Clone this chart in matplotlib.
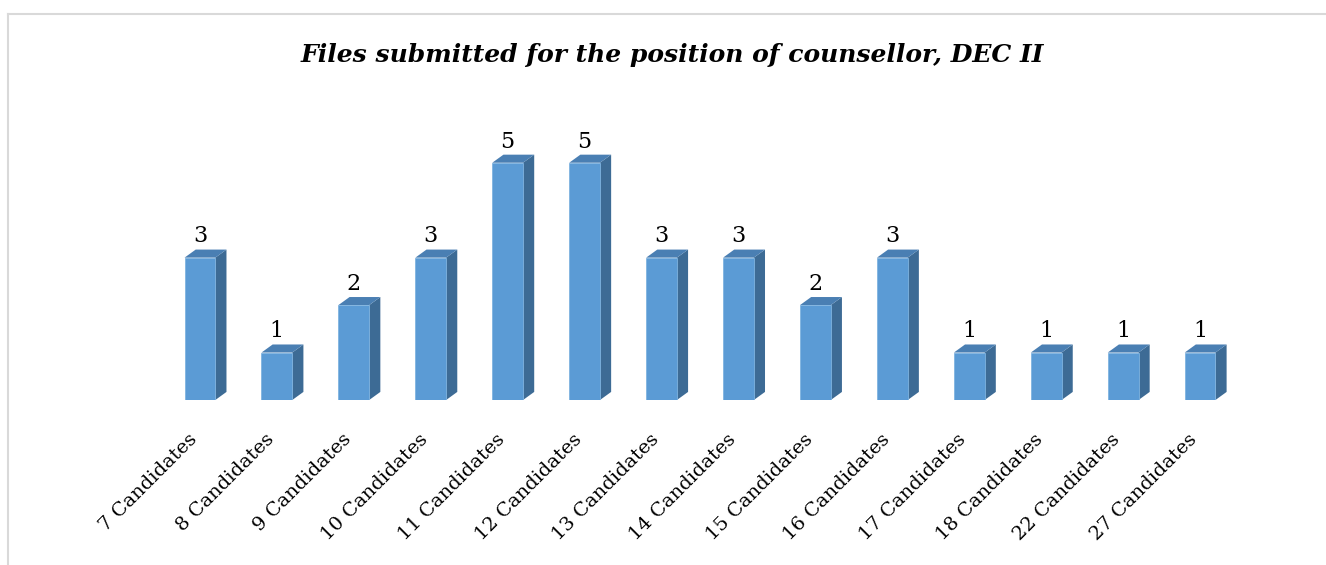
import matplotlib.pyplot as plt
from matplotlib.patches import Polygon
from matplotlib.lines import Line2D
from matplotlib.transforms import ScaledTranslation
import numpy as np

# data
categories = ['7 Candidates', '8 Candidates', '9 Candidates', '10 Candidates',
              '11 Candidates', '12 Candidates', '13 Candidates', '14 Candidates',
              '15 Candidates', '16 Candidates', '17 Candidates', '18 Candidates',
              '22 Candidates', '27 Candidates']
files = [3, 1, 2, 3, 5, 5, 3, 3, 2, 3, 1, 1, 1, 1]
title = 'Files submitted for the position of counsellor, DEC II'

front_col = '#5b9bd5'
side_col = '#3d6b95'
top_col = '#4a7fb3'
serif = ['DejaVu Serif']

fig = plt.figure(figsize=(13.26, 5.65), dpi=100)
ax = fig.add_axes([123 / 1326, 165 / 565, 1154 / 1326, 261 / 565])

x = np.arange(len(categories))
w = 0.40      # front face width
dx = 0.145    # depth in x
dy = 0.17     # depth in y

ax.bar(x, files, width=w, color=front_col, edgecolor='#7fb3e0', linewidth=0.6, zorder=3)
for xi, v in zip(x, files):
    l, r = xi - w / 2, xi + w / 2
    side = Polygon([(r, 0), (r + dx, dy), (r + dx, v + dy), (r, v)],
                   closed=True, facecolor=side_col, edgecolor='none', zorder=2, clip_on=False)
    top = Polygon([(l, v), (r, v), (r + dx, v + dy), (l + dx, v + dy)],
                  closed=True, facecolor=top_col, edgecolor='none', zorder=2, clip_on=False)
    ax.add_patch(side)
    ax.add_patch(top)
    ax.text(xi, v + dy + 0.15, str(v), ha='center', va='baseline',
            fontsize=16, family=serif, color='black')

ax.set_xlim(-1, 14)
ax.set_ylim(0, 5.5)
ax.set_yticks([])
ax.set_xticks(x)
ax.set_xticklabels(categories, rotation=45, ha='right', rotation_mode='anchor',
                   fontsize=14, family=serif)
ax.tick_params(axis='x', length=0, pad=22)
shift = ScaledTranslation(-12 / 100, 0, fig.dpi_scale_trans)
for lab in ax.get_xticklabels():
    lab.set_transform(lab.get_transform() + shift)
for s in ax.spines.values():
    s.set_visible(False)

fig.text(672 / 1326, 1 - 55 / 565, title, ha='center', va='center',
         fontsize=18, fontweight='bold', fontstyle='italic', family=serif)

# outer chart border (cropped on the right and bottom)
fig.add_artist(Line2D([8 / 1326, 1], [1 - 14 / 565, 1 - 14 / 565], color='#d9d9d9', linewidth=1.5))
fig.add_artist(Line2D([8 / 1326, 8 / 1326], [0, 1 - 14 / 565], color='#d9d9d9', linewidth=1.5))

fig.savefig('out.png', dpi=100)
